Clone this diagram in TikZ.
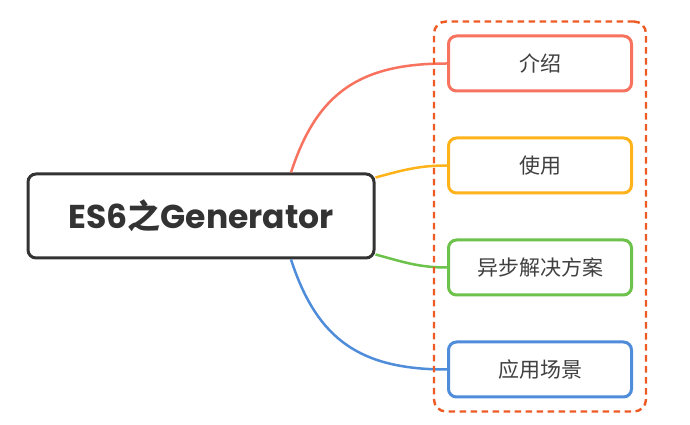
\documentclass[tikz,border=0pt]{standalone}
\usepackage{fontspec}
\setmainfont{Poppins}
\newfontfamily\cjk{Noto Sans CJK SC}
\usepackage{xcolor}
\usepackage{tikz}
\usetikzlibrary{positioning,fit}

\definecolor{cdark}{HTML}{333333}
\definecolor{ctext}{HTML}{404040}
\definecolor{cred}{HTML}{F8735F}
\definecolor{cyellow}{HTML}{FFB31A}
\definecolor{cgreen}{HTML}{6CC24A}
\definecolor{cblue}{HTML}{4F8DDB}
\definecolor{cdash}{HTML}{EE5A24}

\begin{document}
\begin{tikzpicture}
		[x=1pt,y=1pt,
		root/.style={draw=cdark,line width=3pt,rounded corners=8pt,fill=white,
			minimum width=346pt,minimum height=84pt,text=cdark,
			font=\bfseries\fontsize{33}{40}\selectfont},
		topic/.style={draw=#1,line width=3pt,rounded corners=8pt,fill=white,
			minimum width=183pt,minimum height=55pt,text=ctext,
			font=\cjk\fontsize{21}{25}\selectfont},
		link/.style={draw=#1,line width=2.5pt},
		group/.style={draw=cdash,line width=2.4pt,rounded corners=12pt,
			dash pattern=on 6.5pt off 4.5pt,inner sep=13pt}]
		\fill[white] (0,0) rectangle (690,425);
		\node[root] (root) at (201,209) {ES6{\cjk\bfseries 之}Generator};
		% topics
		\node[topic=cred] (intro) at (540,361.5) {介绍};
		\node[topic=cyellow,below=44pt of intro] (use) {使用};
		\node[topic=cgreen,below=44pt of use] (async) {异步解决方案};
		\node[topic=cblue,below=44pt of async] (scene) {应用场景};
		% branches
		\draw[link=cred] ([xshift=90pt]root.north) to[out=72,in=180,looseness=1.15] (intro.west);
		\draw[link=cyellow] ([yshift=-5pt]root.north east) to[out=15,in=180] (use.west);
		\draw[link=cgreen] ([yshift=5pt]root.south east) to[out=-15,in=180] (async.west);
		\draw[link=cblue] ([xshift=90pt]root.south) to[out=-72,in=180,looseness=1.15] (scene.west);
		\node[group,fit=(intro)(scene)] (box) {};
		\end{tikzpicture}
\end{document}
